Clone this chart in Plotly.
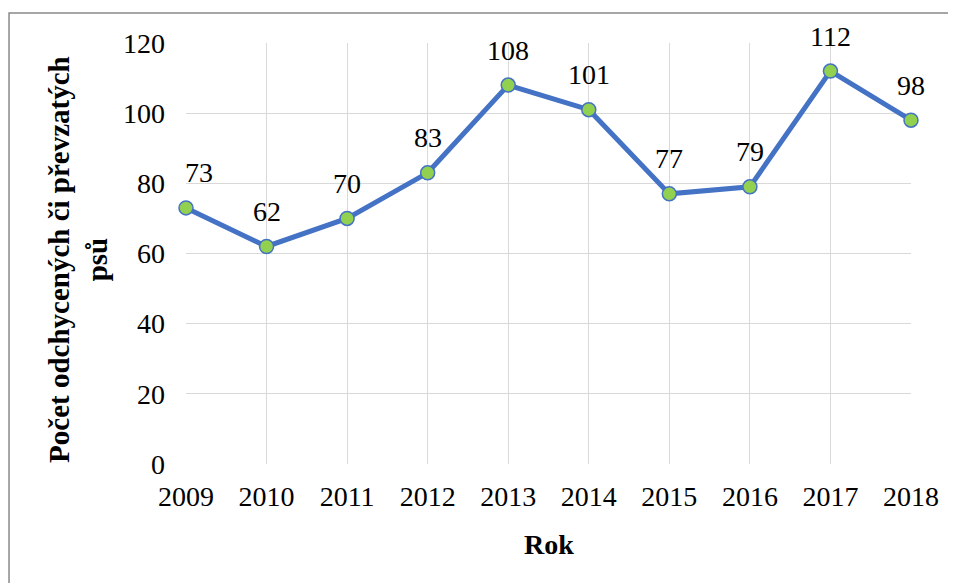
import plotly.graph_objects as go

roky = ["2009", "2010", "2011", "2012", "2013", "2014", "2015", "2016", "2017", "2018"]
pocty = [73, 62, 70, 83, 108, 101, 77, 79, 112, 98]
y_ticks = [0, 20, 40, 60, 80, 100, 120]

FONT = "Liberation Serif, Times New Roman, serif"

fig = go.Figure()

# Linie s body
fig.add_trace(go.Scatter(
    x=roky,
    y=pocty,
    mode="lines+markers",
    line=dict(color="#4472C4", width=5),
    marker=dict(size=14, color="#92D050", line=dict(color="#4472C4", width=1.5)),
    cliponaxis=False,
    showlegend=False,
))

# Popisky hodnot nad body (x = pořadí kategorie)
for i, v in enumerate(pocty):
    fig.add_annotation(
        x=i, y=v, text=str(v), showarrow=False,
        xanchor="center", yanchor="middle",
        yshift=35, xshift=13 if i == 0 else 0,
        font=dict(family=FONT, size=28, color="black"),
    )

# Rámeček kolem grafu
fig.add_shape(
    type="rect", xref="paper", yref="paper",
    x0=-0.2441, x1=1.10, y0=-0.32, y1=1.0713,
    line=dict(color="#898989", width=1.5), layer="below",
)

fig.add_annotation(
    text="<b>Počet odchycených či převzatých<br>psů</b>",
    xref="paper", yref="paper", x=-0.1490, y=0.487,
    xanchor="center", yanchor="middle", textangle=-90,
    showarrow=False, font=dict(family=FONT, size=29, color="black"),
)
fig.add_annotation(
    text="<b>Rok</b>",
    xref="paper", yref="paper", x=0.5, y=-0.192,
    xanchor="center", yanchor="middle",
    showarrow=False, font=dict(family=FONT, size=28, color="black"),
)

# stránka má okraj 8 px, proto menší rozměr
fig.update_layout(
    width=948, height=575,
    margin=dict(l=178, r=45, t=35, b=119),
    paper_bgcolor="white", plot_bgcolor="white",
    font=dict(family=FONT, size=28, color="black"),
)
fig.update_xaxes(
    type="category", range=[0, 9],
    showgrid=True, gridcolor="#D9D9D9", gridwidth=1,
    showline=False, zeroline=False,
    ticklabelstandoff=13,
    tickfont=dict(family=FONT, size=28, color="black"),
)
fig.update_yaxes(
    range=[0, 120], tickvals=y_ticks,
    showgrid=True, gridcolor="#D9D9D9", gridwidth=1,
    showline=False, zeroline=False,
    ticklabelstandoff=20,
    tickfont=dict(family=FONT, size=28, color="black"),
)

fig.write_html("out.html")
